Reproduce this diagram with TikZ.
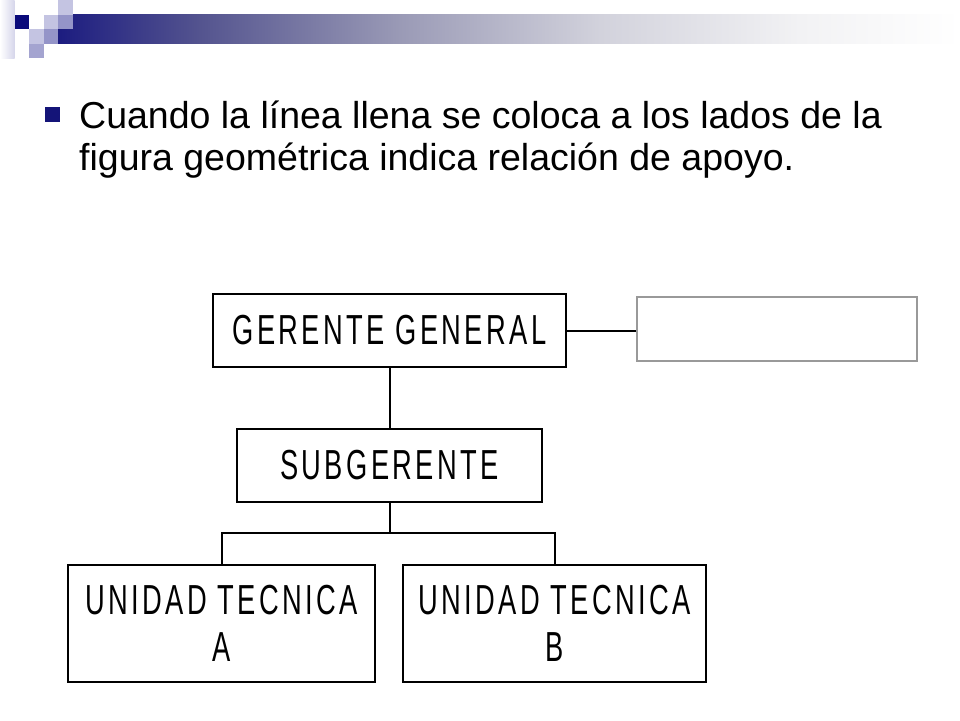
\documentclass[tikz,border=0pt]{standalone}
\usepackage{fontspec}
\setmainfont{Liberation Sans}
\newfontfamily\chartfont[FakeStretch=0.65,LetterSpace=8]{Liberation Sans}
\usetikzlibrary{positioning}

\definecolor{barA}{RGB}{28,28,128}
\definecolor{barB}{RGB}{84,84,143}
\definecolor{barC}{RGB}{154,154,182}
\definecolor{barD}{RGB}{210,210,220}
\definecolor{barE}{RGB}{242,242,244}
\definecolor{navyblock}{RGB}{10,10,122}
\definecolor{lightblock}{RGB}{196,196,226}
\definecolor{midblock}{RGB}{148,148,200}
\definecolor{bulletblue}{RGB}{20,20,120}

\tikzset{
  orgbox/.style={draw=black, line width=2pt, fill=white, inner sep=0pt,
    font=\chartfont\fontsize{42}{47}\selectfont, align=center},
  apoyobox/.style={draw=black!40, line width=2pt, fill=white, inner sep=0pt},
  orgline/.style={line width=2pt},
  slidetext/.style={anchor=base west, inner sep=0pt,
    font=\fontsize{37.5}{42}\selectfont}
}

\begin{document}
\begin{tikzpicture}[x=1pt, y=-1pt]

  \useasboundingbox (0,0) rectangle (960,720);

  % title bar and squares
  \foreach \xa/\xb/\ca/\cb in {58/200/barA/barB, 200/400/barB/barC,
      400/600/barC/barD, 600/800/barD/barE, 800/960/barE/white}
    \shade[left color=\ca, right color=\cb] (\xa,14.5) rectangle (\xb,43.5);
  \shade[left color=white, right color=lightblock!70] (0,0) rectangle (14.5,58);
  \fill[navyblock] (14.5,14.5) rectangle (29,29);
  \fill[lightblock] (43.5,14.5) rectangle (58,29);
  \fill[lightblock] (58,0) rectangle (72.5,14.5);
  \fill[lightblock] (29,29) rectangle (43.5,43.5);
  \fill[midblock] (58,14.5) rectangle (72.5,29);
  \fill[midblock] (43.5,29) rectangle (58,43.5);
  \fill[midblock!85] (29,43.5) rectangle (43.5,58);

  % bullet
  \fill[bulletblue] (45,107) rectangle (60,122);
  \node[slidetext] (linea1) at (79,128)
    {Cuando la línea llena se coloca a los lados de la};
  \node[slidetext] (linea2) at (79,170)
    {figura geométrica indica relación de apoyo.};

  % organigrama
  \node[orgbox, minimum width=353pt, minimum height=73pt] (gerente)
    at (389.5,330.5) {GERENTE GENERAL};
  \node[apoyobox, minimum width=280pt, minimum height=64pt] (apoyo)
    at (777,329) {};
  \node[orgbox, minimum width=305pt, minimum height=73pt] (sub)
    at (389.5,465.5) {SUBGERENTE};
  \node[orgbox, minimum width=307pt, minimum height=117pt] (uta)
    at (221.5,623.5) {UNIDAD TECNICA\\A};
  \node[orgbox, minimum width=303pt, minimum height=117pt] (utb)
    at (554.5,623.5) {UNIDAD TECNICA\\B};

  \coordinate (rama) at (389.5,533);

  \draw[orgline] (gerente.east) -- (gerente.east -| apoyo.west);
  \draw[orgline] (gerente) -- (sub);
  \draw[orgline] (sub.south) -- (rama);
  \draw[orgline] (uta.north) |- (rama) -| (utb.north);

\end{tikzpicture}
\end{document}
